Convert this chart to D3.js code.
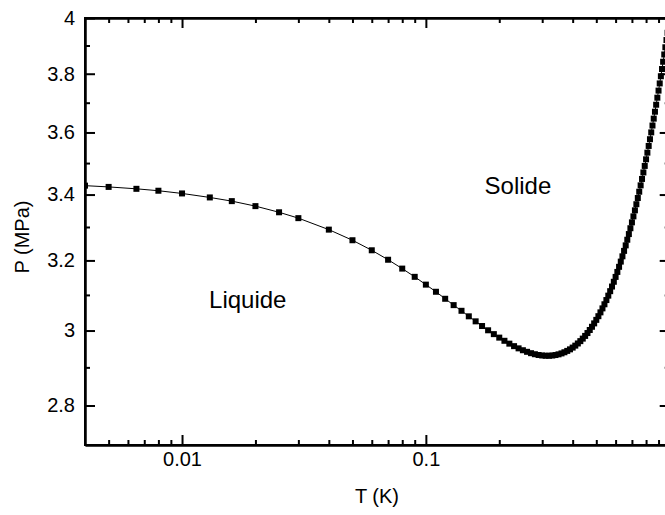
<!DOCTYPE html>
<html>
<head>
<meta charset="utf-8">
<script src="https://cdn.jsdelivr.net/npm/d3@7"></script>
<style>
  body { margin: 0; background: #fff; }
  svg { display: block; font-family: "Liberation Sans", Arial, sans-serif; }
  .axis path, .axis line { stroke: #000; stroke-width: 2; }
  .axis text { font-size: 20px; fill: #000; }
</style>
</head>
<body>
<div id="chart"></div>
<script>
// melting curve, T in K
var temps = [0.004, 0.005, 0.0065, 0.008, 0.01, 0.013, 0.016, 0.02, 0.025, 0.03,
  0.04, 0.05, 0.06, 0.07, 0.08, 0.09, 0.10,
  0.11, 0.12, 0.13, 0.14, 0.15, 0.16, 0.17, 0.18, 0.19, 0.20,
  0.21, 0.22, 0.23, 0.24, 0.25, 0.26, 0.27, 0.28, 0.29, 0.30,
  0.31, 0.32, 0.33, 0.34, 0.35, 0.36, 0.37, 0.38, 0.39, 0.40,
  0.41, 0.42, 0.43, 0.44, 0.45, 0.46, 0.47, 0.48, 0.49, 0.50,
  0.51, 0.52, 0.53, 0.54, 0.55, 0.56, 0.57, 0.58, 0.59, 0.60,
  0.61, 0.62, 0.63, 0.64, 0.65, 0.66, 0.67, 0.68, 0.69, 0.70,
  0.71, 0.72, 0.73, 0.74, 0.75, 0.76, 0.77, 0.78, 0.79, 0.80,
  0.81, 0.82, 0.83, 0.84, 0.85, 0.86, 0.87, 0.88, 0.89, 0.90,
  0.91, 0.92, 0.93, 0.94, 0.95, 0.96, 0.97, 0.98, 0.99, 1.00];

// pressure, MPa
var pressures = [3.428, 3.424, 3.418, 3.412, 3.4035, 3.391, 3.3795, 3.364, 3.345, 3.327,
  3.292, 3.260, 3.230, 3.202, 3.176, 3.152, 3.1295,
  3.109, 3.089, 3.071, 3.055, 3.0395, 3.0255, 3.0125, 3.0007, 2.9901, 2.9805,
  2.9718, 2.9640, 2.9572, 2.9512, 2.9461, 2.9418, 2.9381, 2.9353, 2.9332, 2.9319,
  2.9312, 2.9312, 2.9318, 2.9331, 2.9350, 2.9375, 2.9406, 2.9443, 2.9485, 2.9533,
  2.9586, 2.9645, 2.9709, 2.9778, 2.9852, 2.9931, 3.0015, 3.0104, 3.0198, 3.0296,
  3.0399, 3.0506, 3.0618, 3.0734, 3.0854, 3.0979, 3.1107, 3.1240, 3.1377, 3.1518,
  3.1663, 3.1812, 3.1965, 3.2121, 3.2282, 3.2446, 3.2615, 3.2786, 3.2962, 3.3141,
  3.3324, 3.3510, 3.3699, 3.3892, 3.4089, 3.4289, 3.4492, 3.4699, 3.4908, 3.5121,
  3.5337, 3.5556, 3.5777, 3.6002, 3.6230, 3.6461, 3.6694, 3.6931, 3.7171, 3.7414,
  3.7662, 3.7912, 3.8165, 3.8421, 3.868, 3.8937, 3.9197, 3.9459, 3.9723, 3.999];

var xMajor = [0.01, 0.1, 1];
var xMajorLabels = ['0.01', '0.1', '1'];
var xMinor = [0.005, 0.006, 0.007, 0.008, 0.009,
  0.02, 0.03, 0.04, 0.05, 0.06, 0.07, 0.08, 0.09,
  0.2, 0.3, 0.4, 0.5, 0.6, 0.7, 0.8, 0.9];
var yMajor = [2.8, 3, 3.2, 3.4, 3.6, 3.8, 4];
var yMajorLabels = ['2.8', '3', '3.2', '3.4', '3.6', '3.8', '4'];
var yMinor = [2.9, 3.1, 3.3, 3.5, 3.7, 3.9];

var regions = [
  { name: 'Liquide', t: 0.0186, p: 3.063 },
  { name: 'Solide', t: 0.2386, p: 3.401 }
];

(function draw() {

  var width = 665, height = 515;
  var left = 85, right = 669.7, top = 18, bottom = 445;

  var x = d3.scaleLog().domain([0.004, 1]).range([left, right]);
  var y = d3.scaleLog().domain([2.7, 4]).range([bottom, top]);

  var svg = d3.select('#chart').append('svg')
      .attr('width', width)
      .attr('height', height);

  svg.append('defs').append('clipPath')
      .attr('id', 'plot-clip')
    .append('rect')
      .attr('x', left).attr('y', top)
      .attr('width', right - left).attr('height', bottom - top);

  var data = temps.map(function (t, i) { return { t: t, p: pressures[i] }; });

  var plot = svg.append('g').attr('clip-path', 'url(#plot-clip)');

  plot.append('path')
      .datum(data)
      .attr('fill', 'none')
      .attr('stroke', '#000')
      .attr('stroke-width', 1)
      .attr('d', d3.line()
        .x(function (d) { return x(d.t); })
        .y(function (d) { return y(d.p); }));

  plot.selectAll('rect.pt')
      .data(data)
      .enter()
    .append('rect')
      .attr('class', 'pt')
      .attr('x', function (d) { return x(d.t) - 3; })
      .attr('y', function (d) { return y(d.p) - 3; })
      .attr('width', 6)
      .attr('height', 6)
      .attr('fill', '#000');

  // axes: major ticks 10px, minor 5px, all pointing inward
  function addAxis(axisFn, pos, values, labels, size, pad) {
    var a = axisFn
        .tickValues(values)
        .tickSizeInner(-size)
        .tickSizeOuter(0)
        .tickPadding(pad || 0)
        .tickFormat(function (d, i) { return labels ? labels[i] : ''; });
    svg.append('g')
        .attr('class', 'axis')
        .attr('transform', pos)
        .call(a);
  }

  addAxis(d3.axisBottom(x), 'translate(0,' + bottom + ')', xMajor, xMajorLabels, 10, 7);
  addAxis(d3.axisBottom(x), 'translate(0,' + bottom + ')', xMinor, null, 5);
  addAxis(d3.axisTop(x), 'translate(0,' + top + ')', xMajor, null, 10);
  addAxis(d3.axisTop(x), 'translate(0,' + top + ')', xMinor, null, 5);
  addAxis(d3.axisLeft(y), 'translate(' + left + ',0)', yMajor, yMajorLabels, 10, 10);
  addAxis(d3.axisLeft(y), 'translate(' + left + ',0)', yMinor, null, 5);
  addAxis(d3.axisRight(y), 'translate(' + right + ',0)', yMajor, null, 10);
  addAxis(d3.axisRight(y), 'translate(' + right + ',0)', yMinor, null, 5);

  svg.append('rect')
      .attr('x', left).attr('y', top)
      .attr('width', right - left).attr('height', bottom - top)
      .attr('fill', 'none')
      .attr('stroke', '#000')
      .attr('stroke-width', 2);

  svg.append('text')
      .attr('x', 377)
      .attr('y', 503)
      .attr('text-anchor', 'middle')
      .style('font-size', '20px')
      .text('T (K)');

  svg.append('text')
      .attr('transform', 'translate(29,237) rotate(-90)')
      .attr('text-anchor', 'middle')
      .style('font-size', '20px')
      .text('P (MPa)');

  svg.selectAll('text.region')
      .data(regions)
      .enter()
    .append('text')
      .attr('class', 'region')
      .attr('x', function (d) { return x(d.t); })
      .attr('y', function (d) { return y(d.p); })
      .attr('text-anchor', 'middle')
      .style('font-size', '24px')
      .text(function (d) { return d.name; });
})();
</script>
</body>
</html>
